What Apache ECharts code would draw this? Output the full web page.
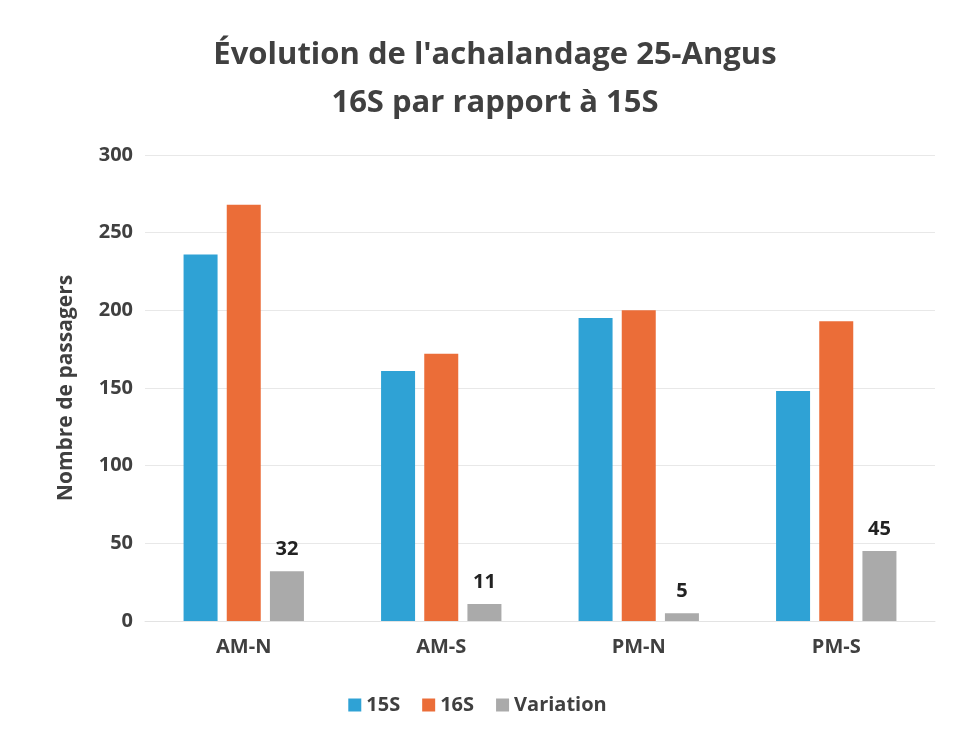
<!DOCTYPE html>
<html>
<head>
<meta charset="utf-8">
<script src="https://cdn.jsdelivr.net/npm/echarts@6/dist/echarts.min.js"></script>
<style>
  html, body { margin: 0; padding: 0; background: #fff; }
  #chart { width: 955px; height: 738px; }
</style>
</head>
<body>
<div id="chart"></div>
<script>
  const categories = ['AM-N', 'AM-S', 'PM-N', 'PM-S'];
  const values15S = [236, 161, 195, 148];
  const values16S = [268, 172, 200, 193];
  const variation = [32, 11, 5, 45];

  const font = '"Open Sans", "Noto Sans", sans-serif';

  const chart = echarts.init(document.getElementById('chart'));

  const barCommon = {
    type: 'bar',
    barWidth: 34,
    barGap: '27%',
  };

  chart.setOption({
    animation: false,
    textStyle: { fontFamily: font },
    title: {
      text: "Évolution de l'achalandage 25-Angus\n16S par rapport à 15S",
      left: 490,
      textAlign: 'center',
      top: 26,
      textStyle: {
        fontFamily: font,
        fontSize: 31,
        fontWeight: 'bold',
        color: '#404040',
        lineHeight: 48,
      },
    },
    legend: {
      bottom: 18,
      left: 'center',
      itemWidth: 13,
      itemHeight: 13,
      itemGap: 22,
      icon: 'rect',
      textStyle: { fontFamily: font, fontSize: 20, fontWeight: 'bold', color: '#404040' },
      data: ['15S', '16S', 'Variation'],
    },
    grid: {
      left: 145,
      right: 20,
      top: 155,
      bottom: 117,
      containLabel: false,
    },
    xAxis: {
      type: 'category',
      data: categories,
      axisTick: { show: false },
      axisLine: { lineStyle: { color: '#e3e3e3' } },
      axisLabel: {
        fontFamily: font,
        fontSize: 20,
        fontWeight: 'bold',
        color: '#404040',
        margin: 16,
      },
    },
    yAxis: {
      type: 'value',
      min: 0,
      max: 300,
      interval: 50,
      name: 'Nombre de passagers',
      nameLocation: 'middle',
      nameGap: 68,
      nameTextStyle: { fontFamily: font, fontSize: 21, fontWeight: 'bold', color: '#404040' },
      axisLine: { show: false },
      axisTick: { show: false },
      splitLine: { lineStyle: { color: '#e8e8e8' } },
      axisLabel: {
        fontFamily: font,
        fontSize: 20,
        fontWeight: 'bold',
        color: '#404040',
        margin: 12,
      },
    },
    series: [
      Object.assign({}, barCommon, {
        name: '15S',
        data: values15S,
        itemStyle: { color: '#2fa2d5' },
      }),
      Object.assign({}, barCommon, {
        name: '16S',
        data: values16S,
        itemStyle: { color: '#eb6d38' },
      }),
      Object.assign({}, barCommon, {
        name: 'Variation',
        data: variation,
        itemStyle: { color: '#aaaaaa' },
        label: {
          show: true,
          position: 'top',
          distance: 12,
          fontFamily: font,
          fontSize: 20,
          fontWeight: 'bold',
          color: '#222',
        },
      }),
    ],
  });
</script>
</body>
</html>
